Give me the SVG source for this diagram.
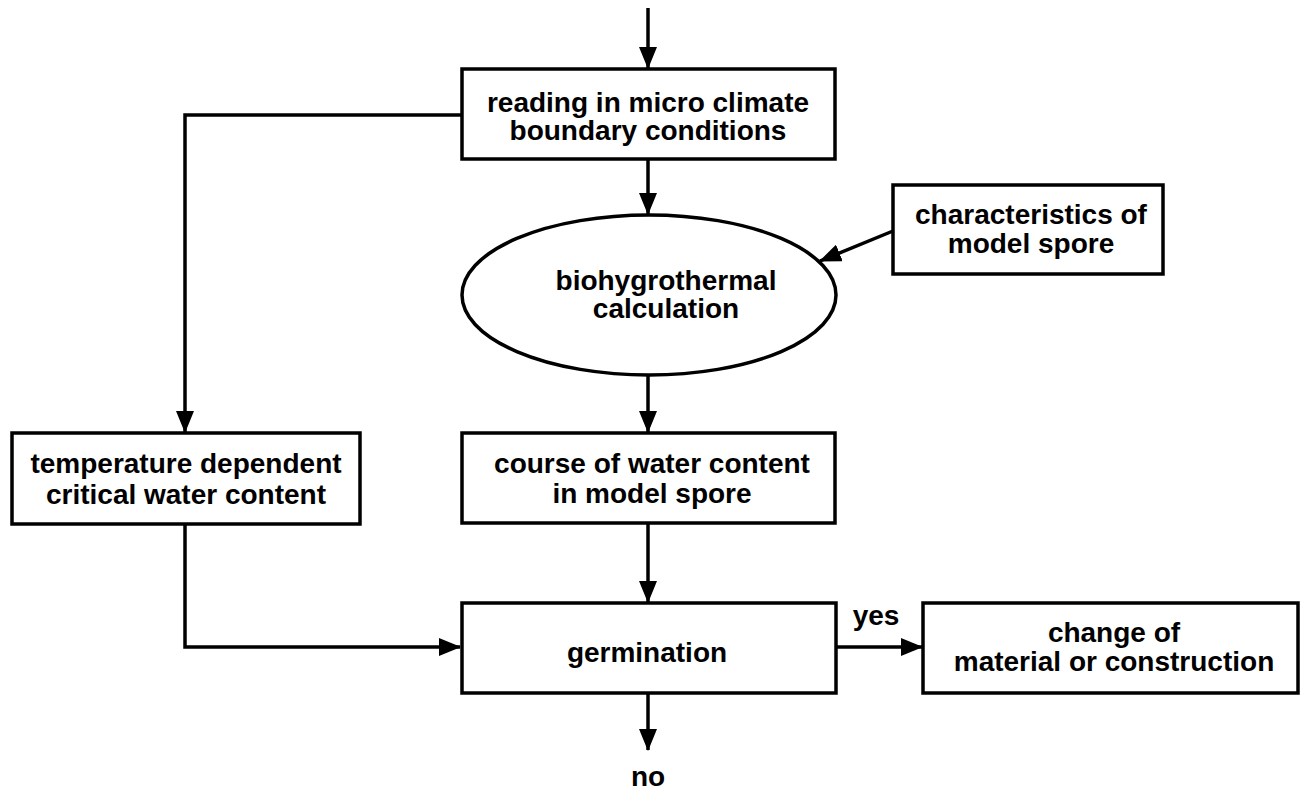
<svg xmlns="http://www.w3.org/2000/svg" width="1306" height="791" viewBox="0 0 1306 791">
<style>
.n{fill:#fff;stroke:#000;stroke-width:3.5}
.c{fill:none;stroke:#000;stroke-width:3.5}
text{font-family:"Liberation Sans",Arial,sans-serif;font-weight:bold;font-size:28px;fill:#000;text-anchor:middle}
</style>
<defs>
<marker id="ah" markerUnits="userSpaceOnUse" markerWidth="22" markerHeight="18" refX="21" refY="9" orient="auto">
<path d="M0,0 L22,9 L0,18 Z" fill="#000"/>
</marker>
</defs>
<rect width="1306" height="791" fill="#fff"/>
<g id="connectors">
<line class="c" x1="648" y1="8" x2="648" y2="68" marker-end="url(#ah)"/>
<line class="c" x1="648" y1="159" x2="648" y2="214" marker-end="url(#ah)"/>
<line class="c" x1="893" y1="231" x2="820" y2="261" marker-end="url(#ah)"/>
<polyline class="c" points="462,115 185,115 185,432" marker-end="url(#ah)"/>
<line class="c" x1="648" y1="375" x2="648" y2="432" marker-end="url(#ah)"/>
<line class="c" x1="648" y1="523" x2="648" y2="602" marker-end="url(#ah)"/>
<polyline class="c" points="185,524 185,647 460,647" marker-end="url(#ah)"/>
<line class="c" x1="648" y1="693" x2="648" y2="750" marker-end="url(#ah)"/>
<line class="c" x1="836" y1="647" x2="922" y2="647" marker-end="url(#ah)"/>
<text x="876" y="625">yes</text>
<text x="648" y="786">no</text>
</g>
<g id="reading">
<rect class="n" x="462" y="69" width="373" height="90"/>
<text x="648" y="112">reading in micro climate</text>
<text x="648" y="140">boundary conditions</text>
</g>
<g id="calc">
<ellipse class="n" cx="649" cy="295" rx="187" ry="80"/>
<text x="666" y="290">biohygrothermal</text>
<text x="666" y="318">calculation</text>
</g>
<g id="spore">
<rect class="n" x="893" y="185" width="270" height="89"/>
<text x="1031" y="224">characteristics of</text>
<text x="1031" y="253">model spore</text>
</g>
<g id="critical">
<rect class="n" x="12" y="433" width="348" height="91"/>
<text x="186" y="473">temperature dependent</text>
<text x="186" y="504">critical water content</text>
</g>
<g id="course">
<rect class="n" x="462" y="433" width="373" height="90"/>
<text x="652" y="473">course of water content</text>
<text x="652" y="503">in model spore</text>
</g>
<g id="germination">
<rect class="n" x="462" y="603" width="374" height="90"/>
<text x="647" y="662">germination</text>
</g>
<g id="change">
<rect class="n" x="923" y="603" width="375" height="90"/>
<text x="1114" y="642">change of</text>
<text x="1114" y="671">material or construction</text>
</g>
</svg>
